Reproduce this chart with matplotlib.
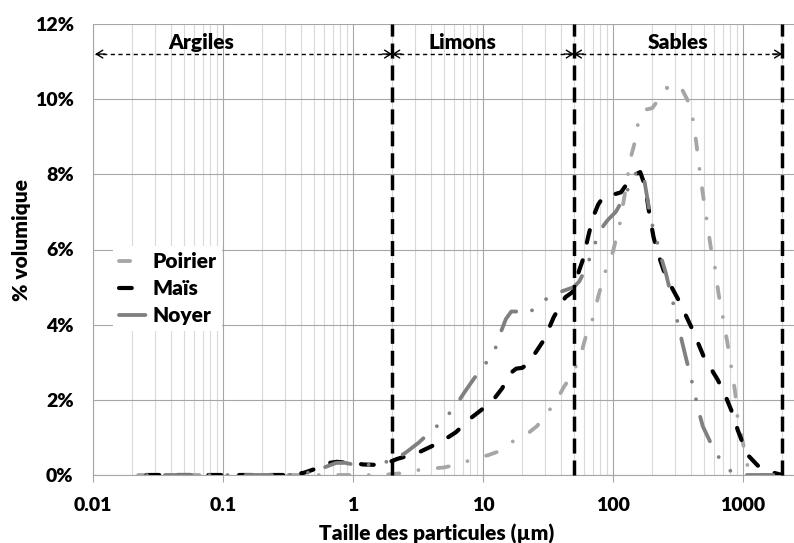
import matplotlib
matplotlib.use('Agg')
import numpy as np
import matplotlib.pyplot as plt
from matplotlib.lines import Line2D
from matplotlib.ticker import LogLocator, FuncFormatter, FixedLocator, NullFormatter

plt.rcParams['font.family'] = ['Lato', 'DejaVu Sans']
plt.rcParams['font.weight'] = 'heavy'
plt.rcParams['lines.scale_dashes'] = False

# ---------------- data ----------------
poirier_x = [0.02, 0.05, 0.1, 0.2, 0.5, 1.0, 1.5, 2.0, 2.5, 3.0, 4.0, 5.0, 6.0, 7.3, 9.0, 11, 13, 16, 19,
             22, 26, 32, 37, 42, 47, 52, 57, 62, 69, 77, 87, 100, 113, 125, 137, 147, 156, 172, 200,
             220, 260, 300, 333, 375, 410, 435, 460, 490, 520, 565, 610, 650, 700, 760, 810, 870, 910,
             1000, 1090, 1200, 1400, 1700, 2000]
poirier_y = [0, 0, 0, 0, 0, 0, 0, 0.02, 0.06, 0.12, 0.17, 0.2, 0.26, 0.35, 0.45, 0.53, 0.62, 0.85, 0.98,
             1.1, 1.3, 1.7, 2.0, 2.35, 2.6, 2.9, 3.25, 3.7, 4.1, 4.75, 5.4, 5.95, 6.7, 7.6, 8.45, 8.85,
             9.37, 9.71, 9.76, 9.95, 10.3, 10.4, 10.32, 9.97, 9.5, 8.9, 8.2, 7.5, 6.9, 6.06, 5.5, 4.8,
             4.2, 3.5, 2.9, 2.2, 1.5, 0.85, 0.2, 0.02, 0, 0, 0]

mais_x = [0.02, 0.1, 0.2, 0.3, 0.36, 0.42, 0.5, 0.57, 0.65, 0.75, 0.9, 1.0, 1.2, 1.5, 1.85, 2.2, 2.7,
          3.2, 4.0, 5.0, 6.2, 8.1, 9.7, 12, 14, 16.4, 18, 20, 22, 25.5, 29.5, 35, 43, 49, 55, 59, 64,
          70, 77, 85, 95, 105, 115, 130, 145, 162, 172, 180, 190, 205, 220, 245, 277, 320, 410, 500,
          640, 740, 840, 910, 1020, 1110, 1300, 1640, 2000]
mais_y = [0, 0, 0, 0, 0.02, 0.06, 0.15, 0.25, 0.32, 0.35, 0.33, 0.32, 0.28, 0.27, 0.33, 0.43, 0.52,
          0.6, 0.76, 0.93, 1.14, 1.52, 1.73, 2.0, 2.3, 2.72, 2.83, 2.85, 2.95, 3.27, 3.6, 4.2, 4.73,
          4.87, 5.45, 5.75, 6.3, 6.85, 7.2, 7.42, 7.46, 7.48, 7.52, 7.78, 7.98, 8.06, 7.8, 7.5, 6.97,
          6.33, 5.93, 5.45, 5.05, 4.65, 3.86, 3.14, 2.53, 2.07, 1.6, 1.2, 0.75, 0.5, 0.25, 0.08, 0]

noyer_x = [0.02, 0.1, 0.2, 0.3, 0.4, 0.5, 0.6, 0.74, 0.85, 1.0, 1.4, 1.8, 2.2, 2.6, 3.2, 4.0, 5.0, 6.2,
           7.2, 8.5, 10.5, 12.4, 13.7, 15, 16.5, 18, 20, 22, 26, 33, 43, 50, 55, 62, 69, 77, 85, 92,
           105, 120, 130, 140, 152, 164, 175, 185, 195, 215, 234, 255, 275, 295, 315, 340, 365, 420,
           450, 490, 565, 620, 670, 780, 850, 1000, 2000]
noyer_y = [0, 0, 0, 0, 0.02, 0.1, 0.2, 0.32, 0.33, 0.28, 0.27, 0.35, 0.45, 0.62, 0.86, 1.17, 1.46, 1.86,
           2.2, 2.56, 2.97, 3.35, 3.8, 4.15, 4.35, 4.35, 4.25, 4.3, 4.47, 4.78, 4.92, 5.0, 5.15, 5.5,
           5.93, 6.4, 6.65, 6.8, 7.0, 7.35, 7.6, 7.9, 8.05, 8.1, 7.8, 7.3, 6.8, 6.3, 5.8, 5.37, 4.9,
           4.47, 4.04, 3.54, 3.1, 2.26, 1.78, 1.3, 0.85, 0.6, 0.4, 0.15, 0.02, 0, 0]

series_names = ['Poirier', 'Maïs', 'Noyer']
zone_names = ['Argiles', 'Limons', 'Sables']
zone_bounds = [0.0104, 2, 50, 2000]      # particle size class limits (µm)
arrow_level = 11.2                        # % level of the class arrows
y_ticks = [0, 2, 4, 6, 8, 10, 12]
x_ticks = [0.01, 0.1, 1, 10, 100, 1000]

# ---------------- figure ----------------
W, H = 794, 543
fig = plt.figure(figsize=(W / 100, H / 100), dpi=100)
L, B, T = 93, 68, 24
ax = fig.add_axes([L / W, B / H, (W - L) / W, (H - B - T) / H])
ax.set_xscale('log')
ax.set_xlim(0.01, 10 ** (-2 + (W - L) / 130.0))
ax.set_ylim(0, 12)

ax.xaxis.set_major_locator(FixedLocator(x_ticks + [10000]))
ax.xaxis.set_minor_locator(LogLocator(base=10, subs=range(2, 10), numticks=50))
ax.xaxis.set_major_formatter(FuncFormatter(lambda v, p: f'{v:g}'))
ax.xaxis.set_minor_formatter(NullFormatter())
ax.set_yticks(y_ticks)
ax.yaxis.set_major_formatter(FuncFormatter(lambda v, p: f'{v:.0f}%'))

ax.grid(which='major', axis='x', color='#A6A6A6', lw=0.8)
ax.grid(which='minor', axis='x', color='#D9D9D9', lw=0.8)
ax.grid(which='major', axis='y', color='#A6A6A6', lw=0.8)
ax.set_axisbelow(True)

for s in ['top', 'right']:
    ax.spines[s].set_visible(False)
for s in ['left', 'bottom']:
    ax.spines[s].set_color('#A6A6A6')
    ax.spines[s].set_linewidth(0.8)

FS = 15
ax.tick_params(axis='x', which='major', length=5, width=0.8, color='#A6A6A6', pad=11,
               labelsize=14)
ax.tick_params(axis='x', which='minor', length=0)
ax.tick_params(axis='y', which='major', length=0, pad=14, labelsize=14)
for lab in ax.get_xticklabels() + ax.get_yticklabels():
    lab.set_fontweight('heavy')


def dash_offset(xs, ys, anchor_x, anchor_pos, seq):
    """Phase of a dash pattern so that pattern position `anchor_pos` falls on anchor_x."""
    pts = ax.transData.transform(np.column_stack([xs, ys]))
    s = np.concatenate([[0.0], np.cumsum(np.hypot(*np.diff(pts, axis=0).T))])
    s_pt = s[list(xs).index(anchor_x)] * 72.0 / fig.dpi
    return (anchor_pos - s_pt) % sum(seq)


styles = [
    dict(x=poirier_x, y=poirier_y, color='#A6A6A6', lw=2.75, seq=(8, 14, 0.01, 14),
         anchor=(260, 22.0), z=3),
    dict(x=mais_x, y=mais_y, color='black', lw=3.0, seq=(9.2, 13.1), anchor=(16.4, -1.4), z=4),
    dict(x=noyer_x, y=noyer_y, color='#808080', lw=2.75, seq=(19, 13, 0.01, 13, 0.01, 13),
         anchor=(13.7, -1.4), z=5),
]
handles = []
for name, st in zip(series_names, styles):
    off = dash_offset(st['x'], st['y'], st['anchor'][0], st['anchor'][1], st['seq'])
    ax.plot(st['x'], st['y'], color=st['color'], lw=st['lw'], linestyle=(off, st['seq']),
            dash_capstyle='round', zorder=st['z'])
    handles.append(Line2D([], [], color=st['color'], lw=st['lw'], dashes=st['seq'],
                          dash_capstyle='round', label=name))

# class boundaries (vertical dashed lines)
for b in zone_bounds[1:]:
    ax.plot([b, b], [0, 12], color='black', lw=2.5, dashes=(10.8, 5), dash_capstyle='butt',
            zorder=6, clip_on=False)

# class arrows
for i in range(3):
    x0, x1 = zone_bounds[i], zone_bounds[i + 1]
    ax.plot([x0, x1], [arrow_level, arrow_level], color='black', lw=1.0, dashes=(3, 2.5), zorder=6)
    for tip, off in ((x0, 7), (x1, -7)):
        ax.annotate('', xy=(tip, arrow_level), xytext=(off, 0), textcoords='offset points',
                    arrowprops=dict(arrowstyle='->,head_length=0.45,head_width=0.28', lw=1.0,
                                    color='black', shrinkA=0, shrinkB=0), zorder=7)

zone_label_x = [0.068, 7.0, 316]
for name, xl in zip(zone_names, zone_label_x):
    ax.text(xl, 11.33, name, ha='center', va='baseline', fontsize=FS, fontweight='heavy', zorder=7)

# ---------------- labels ----------------
ax.set_xlabel('Taille des particules (µm)', fontsize=FS, fontweight='heavy')
ax.xaxis.set_label_coords((437 - L) / (W - L), -(524 - (H - B)) / (H - B - T))
ax.set_ylabel('% volumique', fontsize=FS, fontweight='heavy')
ax.yaxis.set_label_coords((31 - L) / (W - L), 0.52)

leg = ax.legend(handles=handles, loc='upper left',
                bbox_to_anchor=((113 - L) / (W - L), (H - B - 246) / (H - B - T)),
                borderaxespad=0, frameon=True, fancybox=False, framealpha=1,
                handlelength=1.36, handletextpad=0.22, labelspacing=0.38, borderpad=0.3,
                prop={'size': FS, 'weight': 'heavy'})
leg.get_frame().set_edgecolor('none')
leg.get_frame().set_facecolor('white')
leg.set_zorder(8)

fig.savefig('out.png', dpi=100)
